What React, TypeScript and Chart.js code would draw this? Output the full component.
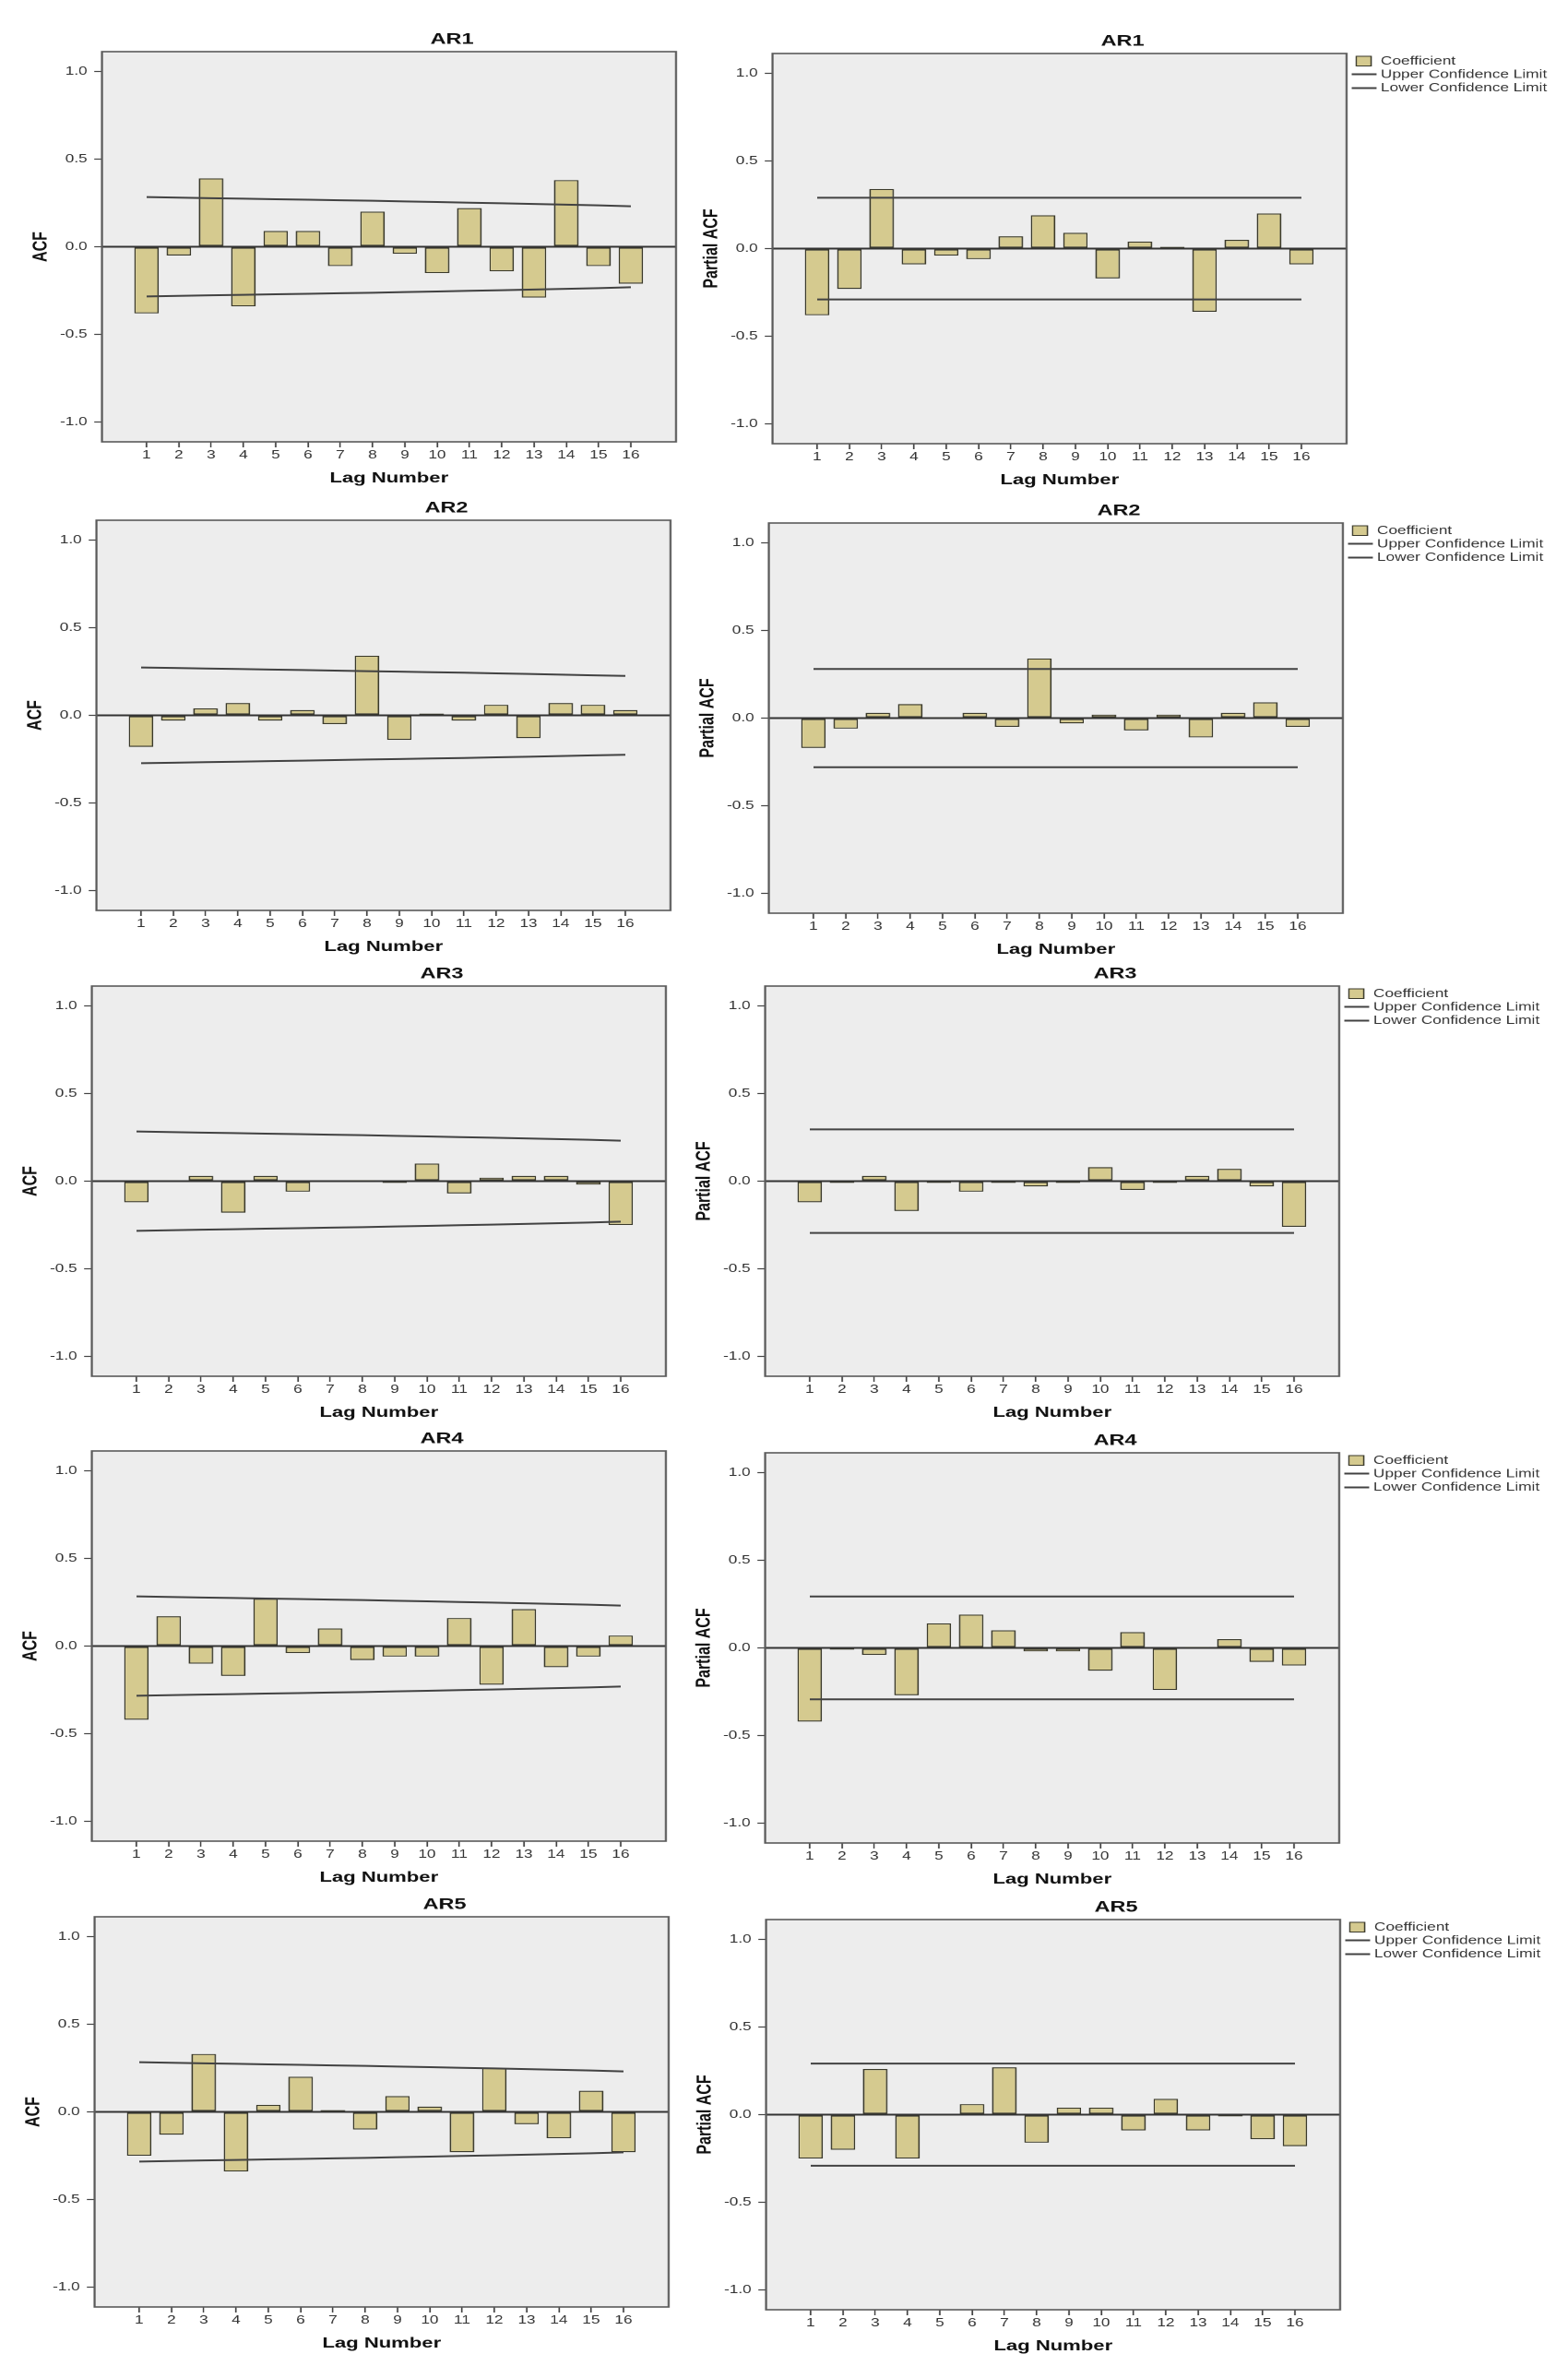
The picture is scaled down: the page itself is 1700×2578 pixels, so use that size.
import React, { useEffect, useRef } from "react";
import { Chart, registerables } from "chart.js";

Chart.register(...registerables);

// ---------------- data ----------------
const lags = [1, 2, 3, 4, 5, 6, 7, 8, 9, 10, 11, 12, 13, 14, 15, 16];
const panelTitles = ["AR1", "AR2", "AR3", "AR4", "AR5"];
const legendLabels = ["Coefficient", "Upper Confidence Limit", "Lower Confidence Limit"];
const yTickValues = [-1, -0.5, 0, 0.5, 1];

const acfAR1 = [-0.38, -0.05, 0.39, -0.34, 0.09, 0.09, -0.11, 0.2, -0.04, -0.15, 0.22, -0.14, -0.29, 0.38, -0.11, -0.21];
const acfAR2 = [-0.18, -0.03, 0.04, 0.07, -0.03, 0.03, -0.05, 0.34, -0.14, 0.01, -0.03, 0.06, -0.13, 0.07, 0.06, 0.03];
const acfAR3 = [-0.12, 0.004, 0.03, -0.18, 0.03, -0.06, 0.0, 0.002, -0.01, 0.1, -0.07, 0.02, 0.03, 0.03, -0.02, -0.25];
const acfAR4 = [-0.42, 0.17, -0.1, -0.17, 0.27, -0.04, 0.1, -0.08, -0.06, -0.06, 0.16, -0.22, 0.21, -0.12, -0.06, 0.06];
const acfAR5 = [-0.25, -0.13, 0.33, -0.34, 0.04, 0.2, 0.01, -0.1, 0.09, 0.03, -0.23, 0.25, -0.07, -0.15, 0.12, -0.23];

const pacfAR1 = [-0.38, -0.23, 0.34, -0.09, -0.04, -0.06, 0.07, 0.19, 0.09, -0.17, 0.04, 0.01, -0.36, 0.05, 0.2, -0.09];
const pacfAR2 = [-0.17, -0.06, 0.03, 0.08, 0.003, 0.03, -0.05, 0.34, -0.03, 0.02, -0.07, 0.02, -0.11, 0.03, 0.09, -0.05];
const pacfAR3 = [-0.12, -0.01, 0.03, -0.17, -0.01, -0.06, -0.01, -0.03, -0.01, 0.08, -0.05, -0.01, 0.03, 0.07, -0.03, -0.26];
const pacfAR4 = [-0.42, -0.01, -0.04, -0.27, 0.14, 0.19, 0.1, -0.02, -0.02, -0.13, 0.09, -0.24, 0.002, 0.05, -0.08, -0.1];
const pacfAR5 = [-0.25, -0.2, 0.26, -0.25, -0.004, 0.06, 0.27, -0.16, 0.04, 0.04, -0.09, 0.09, -0.09, -0.01, -0.14, -0.18];

const acfUpper = [0.283, 0.28, 0.277, 0.274, 0.271, 0.268, 0.265, 0.262, 0.258, 0.255, 0.251, 0.248, 0.244, 0.24, 0.236, 0.231];
const acfLower = [-0.283, -0.28, -0.277, -0.274, -0.271, -0.268, -0.265, -0.262, -0.258, -0.255, -0.251, -0.248, -0.244, -0.24, -0.236, -0.231];
const acfUpperAR2 = [0.273, 0.27, 0.267, 0.264, 0.261, 0.258, 0.255, 0.252, 0.249, 0.246, 0.243, 0.239, 0.236, 0.232, 0.228, 0.225];
const acfLowerAR2 = [-0.273, -0.27, -0.267, -0.264, -0.261, -0.258, -0.255, -0.252, -0.249, -0.246, -0.243, -0.239, -0.236, -0.232, -0.228, -0.225];
const pacfLimits = [0.29, 0.28, 0.295, 0.293, 0.291];

const acfSeries = [acfAR1, acfAR2, acfAR3, acfAR4, acfAR5];
const pacfSeries = [pacfAR1, pacfAR2, pacfAR3, pacfAR4, pacfAR5];
const acfUpperSeries = [acfUpper, acfUpperAR2, acfUpper, acfUpper, acfUpper];
const acfLowerSeries = [acfLower, acfLowerAR2, acfLower, acfLower, acfLower];

// ---------------- layout / style ----------------
const K = 1.38; // horizontal stretch of the original picture
const YW = 62;
const RW = 161;
const TH = 30;
const XH = 55;
const FRAME_W = 622;
const FRAME_H = 422.6;
const leftFrames = [[111, 56], [105, 563.5], [100, 1069], [100, 1573], [103, 2078]];
const rightFrames = [[838, 58], [834, 567], [830, 1069], [830, 1575], [831, 2081]];

const FONT = '"Liberation Sans", Arial, Helvetica, sans-serif';
const BAR_FILL = "#D5CA8F";
const BAR_EDGE = "#3A392A";
const LINE_COLOR = "#424242";
const PLOT_BG = "#EDEDED";

Chart.defaults.font.family = FONT;

const framePlugin = {
  id: "spssFrame",
  beforeDraw(chart: any) {
    const { ctx, chartArea } = chart;
    ctx.save();
    ctx.fillStyle = PLOT_BG;
    ctx.fillRect(chartArea.left, chartArea.top, chartArea.width, chartArea.height);
    ctx.restore();
  },
  afterDraw(chart: any) {
    const { ctx, chartArea } = chart;
    ctx.save();
    ctx.strokeStyle = "#5A5A5A";
    ctx.lineWidth = 1.6;
    ctx.strokeRect(chartArea.left, chartArea.top, chartArea.width, chartArea.height);
    ctx.restore();
  },
};

const legendPlugin = {
  id: "spssLegend",
  afterDraw(chart: any) {
    const { ctx, chartArea } = chart;
    const ds = chart.data.datasets;
    const x0 = chartArea.right;
    const y0 = chartArea.top;
    ctx.save();
    ctx.fillStyle = ds[0].backgroundColor;
    ctx.fillRect(x0 + 7.6, y0 + 3, 11.7, 10.5);
    ctx.strokeStyle = ds[0].borderColor;
    ctx.lineWidth = 1;
    ctx.strokeRect(x0 + 7.6, y0 + 3, 11.7, 10.5);
    const lineYs = [y0 + 22.5, y0 + 37.5];
    [1, 2].forEach((di, j) => {
      ctx.strokeStyle = ds[di].borderColor;
      ctx.lineWidth = 2;
      ctx.beginPath();
      ctx.moveTo(x0 + 4, lineYs[j]);
      ctx.lineTo(x0 + 23.6, lineYs[j]);
      ctx.stroke();
    });
    ctx.fillStyle = "#333";
    ctx.font = `12.5px ${FONT}`;
    ctx.textAlign = "left";
    ctx.textBaseline = "middle";
    const textYs = [y0 + 8.5, y0 + 23, y0 + 37.5];
    ds.forEach((d: any, i: number) => {
      ctx.fillText(d.label, x0 + 26.8, textYs[i]);
    });
    ctx.restore();
  },
};

type PanelProps = {
  title: string;
  yTitle: string;
  values: number[];
  upper: number[];
  lower: number[];
  fx: number;
  fy: number;
  showLegend: boolean;
};

function Panel({ title, yTitle, values, upper, lower, fx, fy, showLegend }: PanelProps) {
  const ref = useRef<HTMLCanvasElement | null>(null);
  const cw = Math.round(YW + FRAME_W / K + RW);
  const ch = Math.round(TH + FRAME_H + XH);

  useEffect(() => {
    const canvas = ref.current;
    if (!canvas) return;
    const chart = new Chart(canvas, {
      type: "bar",
      data: {
        datasets: [
          {
            type: "bar",
            label: legendLabels[0],
            data: lags.map((l, i) => ({ x: l, y: values[i] })),
            backgroundColor: BAR_FILL,
            borderColor: BAR_EDGE,
            borderWidth: 1.2,
            borderSkipped: false,
            barPercentage: 0.76,
            categoryPercentage: 1,
            order: 2,
            xAxisID: "x",
            yAxisID: "y",
          } as any,
          {
            type: "line",
            label: legendLabels[1],
            data: lags.map((l, i) => ({ x: l, y: upper[i] })),
            borderColor: LINE_COLOR,
            borderWidth: 2,
            pointRadius: 0,
            fill: false,
            tension: 0,
            order: 1,
            xAxisID: "x",
            yAxisID: "y",
          } as any,
          {
            type: "line",
            label: legendLabels[2],
            data: lags.map((l, i) => ({ x: l, y: lower[i] })),
            borderColor: LINE_COLOR,
            borderWidth: 2,
            pointRadius: 0,
            fill: false,
            tension: 0,
            order: 1,
            xAxisID: "x",
            yAxisID: "y",
          } as any,
        ],
      },
      options: {
        responsive: false,
        animation: false,
        devicePixelRatio: 2,
        layout: { padding: 0 },
        plugins: {
          legend: { display: false },
          tooltip: { enabled: false },
          title: {
            display: true,
            text: title,
            color: "#111",
            font: { family: FONT, size: 17, weight: "bold" },
            padding: { top: 6.8, bottom: 2.8 },
          },
        },
        scales: {
          x: {
            type: "linear",
            min: -0.38,
            max: 17.4,
            offset: false,
            afterBuildTicks: (s: any) => {
              s.ticks = lags.map((v) => ({ value: v }));
            },
            afterFit: (s: any) => {
              s.height = XH;
            },
            ticks: {
              autoSkip: false,
              maxRotation: 0,
              color: "#333",
              padding: 1,
              font: { family: FONT, size: 12.5 },
              callback: (v: any) => String(v),
            },
            grid: {
              display: true,
              offset: false,
              drawOnChartArea: false,
              drawTicks: true,
              tickLength: 6,
              tickColor: "#444",
              tickWidth: 1.2,
            },
            border: { display: false },
            title: {
              display: true,
              text: "Lag Number",
              color: "#111",
              font: { family: FONT, size: 16, weight: "bold" },
              padding: { top: 0, bottom: 5.9 },
            },
          } as any,
          y: {
            type: "linear",
            min: -1.112,
            max: 1.112,
            afterBuildTicks: (s: any) => {
              s.ticks = yTickValues.map((v) => ({ value: v }));
            },
            afterFit: (s: any) => {
              s.width = YW;
            },
            ticks: {
              color: "#333",
              padding: 5.5,
              font: { family: FONT, size: 12.5 },
              callback: (v: any) => Number(v).toFixed(1),
            },
            grid: {
              display: true,
              drawOnChartArea: true,
              drawTicks: true,
              tickLength: 6,
              tickColor: "#444",
              tickWidth: 1.2,
              color: (c: any) => (c.tick && c.tick.value === 0 ? "#333" : "rgba(0,0,0,0)"),
              lineWidth: (c: any) => (c.tick && c.tick.value === 0 ? 2 : 0),
            },
            border: { display: false },
            title: {
              display: true,
              text: yTitle,
              color: "#111",
              font: { family: FONT, size: 16, weight: "bold" },
              padding: { top: 4.6, bottom: 0 },
            },
          } as any,
          pad: {
            type: "linear",
            position: "right",
            display: true,
            ticks: { display: false },
            grid: { display: false, drawTicks: false },
            border: { display: false },
            afterFit: (s: any) => {
              s.width = RW;
            },
          } as any,
        },
      } as any,
      plugins: showLegend ? [framePlugin, legendPlugin] : [framePlugin],
    });
    return () => chart.destroy();
  }, [title, yTitle, values, upper, lower, showLegend]);

  return (
    <div
      style={{
        position: "absolute",
        left: fx - YW * K,
        top: fy - TH,
        width: cw,
        height: ch,
        transform: `scaleX(${K})`,
        transformOrigin: "0 0",
      }}
    >
      <canvas ref={ref} width={cw} height={ch} style={{ width: cw, height: ch, display: "block" }} />
    </div>
  );
}

export default function App() {
  return (
    <div
      style={{
        position: "absolute",
        left: 0,
        top: 0,
        width: 1700,
        height: 2578,
        background: "#ffffff",
        overflow: "hidden",
      }}
    >
      {panelTitles.map((t, i) => (
        <Panel
          key={"acf" + t}
          title={t}
          yTitle="ACF"
          values={acfSeries[i]}
          upper={acfUpperSeries[i]}
          lower={acfLowerSeries[i]}
          fx={leftFrames[i][0]}
          fy={leftFrames[i][1]}
          showLegend={false}
        />
      ))}
      {panelTitles.map((t, i) => (
        <Panel
          key={"pacf" + t}
          title={t}
          yTitle="Partial ACF"
          values={pacfSeries[i]}
          upper={lags.map(() => pacfLimits[i])}
          lower={lags.map(() => -pacfLimits[i])}
          fx={rightFrames[i][0]}
          fy={rightFrames[i][1]}
          showLegend={true}
        />
      ))}
    </div>
  );
}
